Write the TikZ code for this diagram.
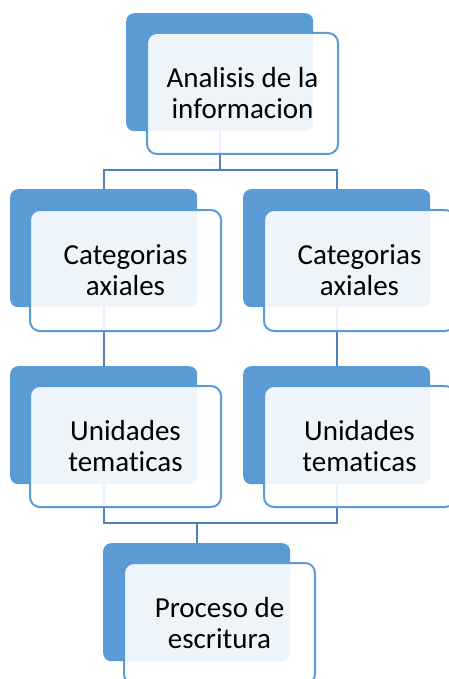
\documentclass[tikz,border=0pt]{standalone}
\usepackage{fontspec}
\setmainfont{Carlito}[Ligatures=NoCommon]
\definecolor{accent}{HTML}{5B9BD5}
\definecolor{linkcol}{HTML}{4F81BD}
\begin{document}
\begin{tikzpicture}[x=1pt,y=-1pt,
back/.style={rectangle,rounded corners=8pt,fill=accent,minimum width=187pt,minimum height=118pt,inner sep=0pt,anchor=north west},
front/.style={rectangle,rounded corners=10pt,draw=accent,line width=2pt,fill=white,fill opacity=0.9,text opacity=1,minimum width=191pt,minimum height=121pt,inner sep=0pt,anchor=north west,align=center,font=\fontsize{29}{31}\selectfont},
link/.style={draw=linkcol,line width=2.4pt}]
\useasboundingbox (0,0) rectangle (449,679);
\clip (0,0) rectangle (449,679);
\node[back] (b1) at (126,13) {};
\node[back] (b2) at (10,189) {};
\node[back] (b3) at (243,189) {};
\node[back] (b4) at (10,366) {};
\node[back] (b5) at (243,366) {};
\node[back] (b6) at (103,543) {};
\coordinate (j1) at (b1.south |- 0,170);
\coordinate (j2) at (b6.north |- 0,523);
\draw[link] (b1.south) -- (j1);
\draw[link] (b2.north) |- (j1) -| (b3.north);
\draw[link] (b2.south) -- (b4.north);
\draw[link] (b3.south) -- (b5.north);
\draw[link] (b4.south) |- (j2) -| (b5.south);
\draw[link] (j2) -- (b6.north);
\node[front] (f1) at (146,32) {Analisis de la\\informacion};
\node[front] (f2) at (29,209) {Categorias\\axiales};
\node[front] (f3) at (263,209) {Categorias\\axiales};
\node[front] (f4) at (29,385) {Unidades\\tematicas};
\node[front] (f5) at (263,385) {Unidades\\tematicas};
\node[front] (f6) at (123,562) {Proceso de\\escritura};
\end{tikzpicture}
\end{document}
